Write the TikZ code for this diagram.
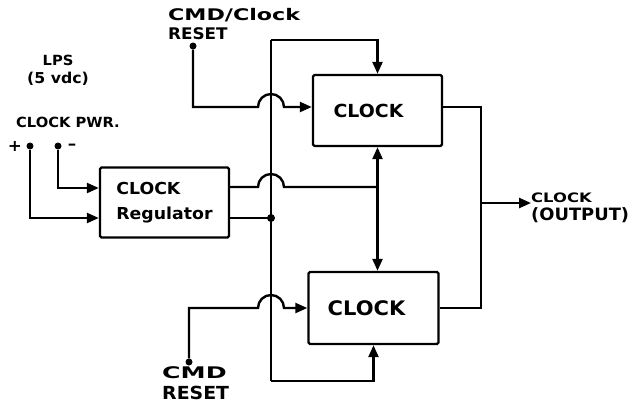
\documentclass[tikz,border=0pt]{standalone}
\usepackage{fontspec}
\setmainfont{DejaVu Sans}
\newfontfamily\hand[FakeStretch=1.05]{DejaVu Sans}
\usetikzlibrary{arrows.meta,calc}
\begin{document}
\begin{tikzpicture}[x=1pt,y=-1pt,
  wire/.style={line width=2.4pt},
  tip/.tip={Triangle[length=12pt,width=10pt]},
  arr/.style={wire,-tip},
  blk/.style={draw,line width=2.4pt,inner sep=0pt,rounded corners=1.5pt,align=left},
  lbl/.style={inner sep=0pt,align=left},
  hs/.style={font=\hand\bfseries\fontsize{#1}{#1}\selectfont},
  term/.style={circle,fill,inner sep=0pt,minimum size=7pt},
  ]
\useasboundingbox (0,0) rectangle (639,405);
% blocks
\node[blk,hs=16.5,minimum width=129pt,minimum height=70pt] (reg) at (164.5,202.5)
  {CLOCK\\[8pt]Regulator};
\node[blk,hs=18,minimum width=129pt,minimum height=71pt] (clka) at (377.5,110.5) {CLOCK\hspace*{18pt}};
\node[blk,hs=20,minimum width=130pt,minimum height=72pt] (clkb) at (373.5,308) {CLOCK\hspace*{14pt}};
% terminals
\node[term] (plus) at (30,146) {};
\node[term] (minus) at (58,146) {};
\node[term] (rsta) at (193,46) {};
\node[term] (rstb) at (189,362) {};
\coordinate (bt) at (271,40);
\coordinate (bb) at (271,381);
\coordinate (j1) at (271,218);
\coordinate (out) at (481,203);
% labels
\node[lbl,hs=16,anchor=north west] (cmdclk) at (168,8) {\scalebox{1.32}[1]{CMD/Clock}\\[3pt]RESET};
\node[lbl,hs=14,align=center] (lps) at (58,70) {LPS\\[4pt]\fontsize{15}{15}\selectfont(5 vdc)};
\node[lbl,hs=14,anchor=west] (pwr) at (16,122) {CLOCK PWR.};
\node[lbl,hs=16] (pl) at (15,146) {+};
\node[lbl,hs=16] (mi) at (72,146.5) {–};
\node[lbl,hs=16,anchor=north west] (cmdb) at (162,366) {\scalebox{1.5}[1]{CMD}\\[5pt]\fontsize{18}{18}\selectfont RESET};
\node[lbl,hs=17,anchor=west] (outl) at (531,208) {\fontsize{13}{13}\selectfont\scalebox{1.2}[1]{CLOCK}\\[1pt](OUTPUT)};
% bus
\draw[wire] (bt) -- (bb);
\draw[arr] (bt) -| (clka.north);
\draw[arr] (bb) -| (clkb.south);
% power inputs
\draw[arr] (plus) |- (reg.west |- 0,218);
\draw[arr] (minus) |- (reg.west |- 0,188);
% regulator outputs
\draw[wire] (reg.east |- j1) -- (j1);
\fill (j1) circle (4pt);
\draw[wire] (reg.east |- 0,187) -- (258,187) arc[start angle=180,end angle=360,radius=13] -- (clka.south |- 0,187);
\draw[wire,tip-tip] (clka.south) -- (clka.south |- clkb.north);
% resets
\draw[arr] (rsta) |- (258,107) arc[start angle=180,end angle=360,radius=13] -- (clka.west |- 0,107);
\draw[arr] (rstb) |- (258,308) arc[start angle=180,end angle=360,radius=13] -- (clkb.west);
% outputs
\draw[wire] (clka.east |- 0,107) -| (out);
\draw[wire] (clkb.east) -| (out);
\draw[arr] (out) -- (outl.west |- out);
\end{tikzpicture}
\end{document}
